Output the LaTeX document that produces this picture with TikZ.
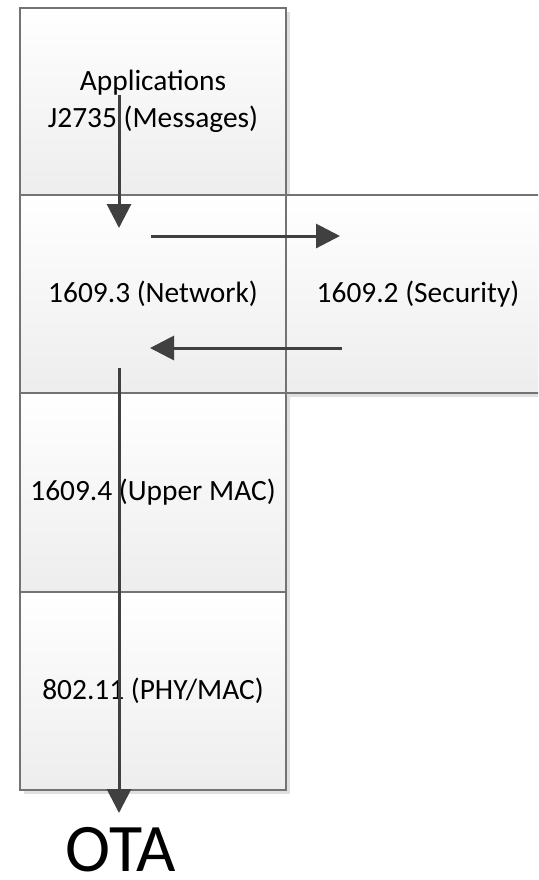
\documentclass[tikz,border=0pt]{standalone}
\usepackage{fontspec}
\setmainfont{Carlito}
\usetikzlibrary{arrows.meta, positioning, shadows}

\begin{document}
\begin{tikzpicture}[
    x=0.5pt, y=-0.5pt,
    layer/.style={rectangle, draw=black!55, line width=0.7pt, top color=white, bottom color=black!7,
        drop shadow={shadow xshift=2.2pt, shadow yshift=-2.2pt, fill=black!12, opacity=1},
        minimum width=133pt, inner sep=0pt, align=center, font=\fontsize{14.7}{18.5}\selectfont},
    arrow/.style={-{Triangle[length=12pt, width=12pt]}, line width=1.5pt, color=black!75},
]

\useasboundingbox (0,0) rectangle (538,880);
\clip (0,0) rectangle (538,880);

\node[layer, minimum height=93.5pt] (apps) at (153, 101.5) {Applications\\J2735 (Messages)};
\node[layer, minimum height=99pt] (net) at (153, 294) {1609.3 (Network)};
\node[layer, minimum height=99pt, minimum width=132pt] (sec) at (418, 294) {1609.2 (Security)};
\node[layer, minimum height=99.5pt] (umac) at (153, 492.5) {1609.4 (Upper MAC)};
\node[layer, minimum height=99pt] (phy) at (153, 691) {802.11 (PHY/MAC)};

\node[font=\fontsize{34}{40}\selectfont, inner sep=0pt] (ota) at (121, 850) {OTA};

% arrow end points
\coordinate (appsout) at (119, 95);
\coordinate (netin) at (119, 228);
\coordinate (netout) at (151, 236);
\coordinate (secin) at (340, 236);
\coordinate (secout) at (342, 348);
\coordinate (netback) at (150, 348);
\coordinate (netdown) at (119, 368);
\coordinate (otain) at (119, 813);

\draw[arrow] (appsout) -- (netin);
\draw[arrow] (netout) -- (secin);
\draw[arrow] (secout) -- (netback);
\draw[arrow] (netdown) -- (otain);

\end{tikzpicture}
\end{document}
